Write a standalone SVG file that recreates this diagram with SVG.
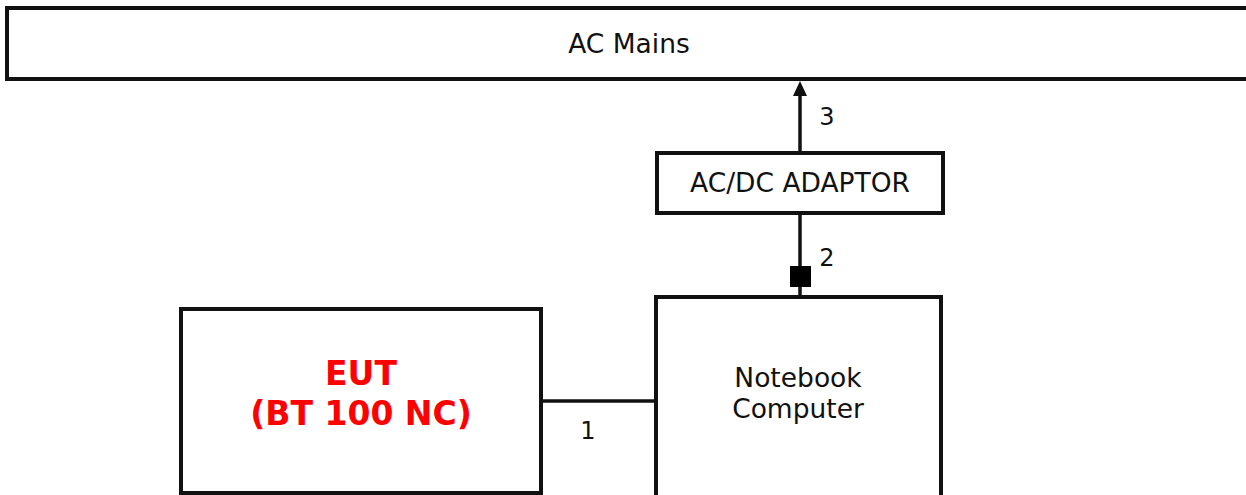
<svg xmlns="http://www.w3.org/2000/svg" width="1246" height="495" viewBox="0 0 1246 495">
<style>
.box{fill:#fff;stroke:#111;stroke-width:4}
.ln{stroke:#111;stroke-width:3.5;fill:none}
.t{font-family:"DejaVu Sans",Verdana,sans-serif;font-size:26.5px;fill:#111;text-anchor:middle}
.n{font-family:"DejaVu Sans",Verdana,sans-serif;font-size:24px;fill:#111;text-anchor:middle}
.red{font-family:"DejaVu Sans",Verdana,sans-serif;font-size:33px;font-weight:bold;fill:#f00;text-anchor:middle}
</style>
<rect width="1246" height="495" fill="#fff"/>
<g id="connectors">
<line class="ln" x1="800" y1="153" x2="800" y2="95"/>
<path d="M793,96 L800,81 L807,96 z" fill="#111"/>
<line class="ln" x1="800" y1="214" x2="800" y2="297"/>
<rect x="790" y="266" width="21" height="21" fill="#000"/>
<line class="ln" x1="542" y1="401" x2="656" y2="401"/>
<text class="n" x="827" y="125">3</text>
<text class="n" x="827" y="266">2</text>
<text class="n" x="588" y="439">1</text>
</g>
<g id="ac-mains">
<rect class="box" x="7" y="8" width="1250" height="71"/>
<text class="t" x="629" y="53">AC Mains</text>
</g>
<g id="adaptor">
<rect class="box" x="657" y="153" width="286" height="60"/>
<text class="t" x="800" y="192">AC/DC ADAPTOR</text>
</g>
<g id="notebook">
<rect class="box" x="656" y="297" width="285" height="210"/>
<text class="t" x="798" y="387">Notebook</text>
<text class="t" x="798" y="418">Computer</text>
</g>
<g id="eut">
<rect class="box" x="181" y="309" width="360" height="184"/>
<text class="red" x="361" y="385">EUT</text>
<text class="red" x="361" y="425">(BT 100 NC)</text>
</g>
</svg>
